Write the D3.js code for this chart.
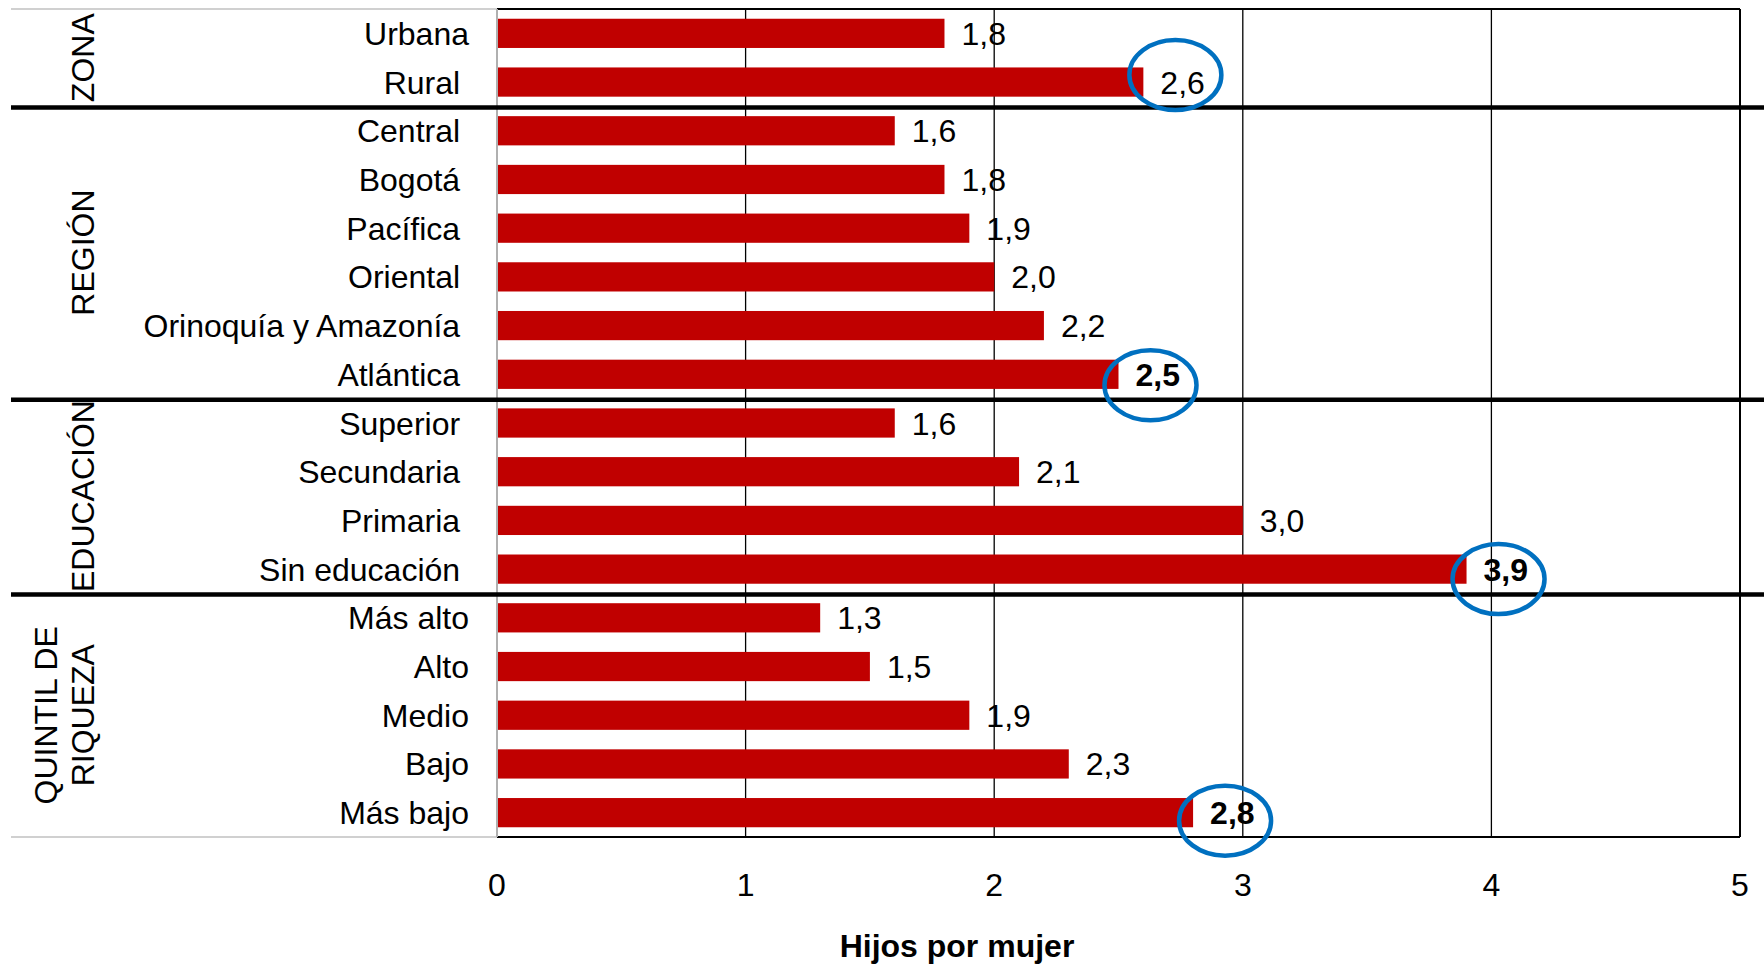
<!DOCTYPE html>
<html>
<head>
<meta charset="utf-8">
<script src="https://cdn.jsdelivr.net/npm/d3@7"></script>
<style>
  html, body { margin: 0; padding: 0; background: #fff; }
  svg { display: block; font-family: "Liberation Sans", Arial, sans-serif; }
  text { white-space: pre; }
</style>
</head>
<body>
<svg id="chart" width="1764" height="964"></svg>
<script>
// ---- Data ----
const categories = ["Urbana", "Rural ", "Central ", "Bogotá ", "Pacífica ", "Oriental ",
  "Orinoquía y Amazonía ", "Atlántica ", "Superior ", "Secundaria ", "Primaria ",
  "Sin educación ", "Más alto", "Alto", "Medio", "Bajo", "Más bajo"];
const values = [1.8, 2.6, 1.6, 1.8, 1.9, 2.0, 2.2, 2.5, 1.6, 2.1, 3.0, 3.9, 1.3, 1.5, 1.9, 2.3, 2.8];
const groupNames = [["ZONA"], ["REGIÓN"], ["EDUCACIÓN"], ["QUINTIL DE", "RIQUEZA"]];
const groupSizes = [2, 6, 4, 5];
const xTicks = [0, 1, 2, 3, 4, 5];
const boldCategories = ["Atlántica ", "Sin educación ", "Más bajo"];
const circledCategories = ["Rural ", "Atlántica ", "Sin educación ", "Más bajo"];
const xTitle = "Hijos por mujer";

// ---- Layout ----
const svg = d3.select("#chart");
const pLeft = 497, pRight = 1740, pTop = 9, pBottom = 837;
const fontSize = 32;
const locale = d3.formatLocale({ decimal: ",", thousands: ".", grouping: [3], currency: ["$", ""] });
const fmt = locale.format(".1f");

const x = d3.scaleLinear().domain([0, 5]).range([pLeft, pRight]);
const y = d3.scaleBand().domain(categories).range([pTop, pBottom]).paddingInner(0.4).paddingOuter(0.2);
const rowTop = i => pTop + i * (pBottom - pTop) / categories.length;

// Vertical gridlines (1..5) and plot border
const grid = svg.append("g");
grid.selectAll("line.g").data(xTicks.slice(1)).join("line")
  .attr("x1", d => x(d)).attr("x2", d => x(d))
  .attr("y1", pTop).attr("y2", pBottom)
  .attr("stroke", "#000").attr("stroke-width", d => d === 5 ? 2 : 1.3);
grid.append("line").attr("x1", pLeft).attr("x2", pRight).attr("y1", pTop).attr("y2", pTop)
  .attr("stroke", "#000").attr("stroke-width", 2);
grid.append("line").attr("x1", pLeft).attr("x2", pRight).attr("y1", pBottom).attr("y2", pBottom)
  .attr("stroke", "#000").attr("stroke-width", 2);
grid.append("line").attr("x1", 11).attr("x2", pLeft).attr("y1", pTop).attr("y2", pTop)
  .attr("stroke", "#d0d0d0").attr("stroke-width", 2);
grid.append("line").attr("x1", 11).attr("x2", pLeft).attr("y1", pBottom).attr("y2", pBottom)
  .attr("stroke", "#d0d0d0").attr("stroke-width", 2);
grid.append("line").attr("x1", pLeft).attr("x2", pLeft).attr("y1", pTop).attr("y2", pBottom)
  .attr("stroke", "#b0b0b0").attr("stroke-width", 2);

// Bars
svg.append("g").selectAll("rect").data(categories).join("rect")
  .attr("x", x(0) + 1)
  .attr("y", d => y(d))
  .attr("width", (d, i) => x(values[i]) - x(0) - 1)
  .attr("height", y.bandwidth())
  .attr("fill", "#C00000");

// Value labels
svg.append("g").selectAll("text").data(categories).join("text")
  .attr("x", (d, i) => x(values[i]) + 17)
  .attr("y", d => y(d) + y.bandwidth() / 2)
  .attr("dy", "0.36em")
  .attr("font-size", fontSize)
  .attr("font-weight", d => boldCategories.includes(d) ? "bold" : "normal")
  .attr("fill", "#000")
  .text((d, i) => fmt(values[i]));

// Category labels
svg.append("g").selectAll("text").data(categories).join("text")
  .attr("x", 469)
  .attr("y", d => y(d) + y.bandwidth() / 2)
  .attr("dy", "0.36em")
  .attr("text-anchor", "end")
  .attr("font-size", fontSize)
  .attr("fill", "#000")
  .text(d => d);

// Group separators and group labels
let cum = 0;
const groupInfo = groupSizes.map((n, gi) => {
  const start = cum; cum += n;
  return { names: groupNames[gi], y0: rowTop(start), y1: rowTop(cum), last: gi === groupSizes.length - 1 };
});
svg.append("g").selectAll("line").data(groupInfo.filter(g => !g.last)).join("line")
  .attr("x1", 11).attr("x2", 1764)
  .attr("y1", d => d.y1 + 1).attr("y2", d => d.y1 + 1)
  .attr("stroke", "#000").attr("stroke-width", 4.5);

const gl = svg.append("g");
groupInfo.forEach(g => {
  const cy = (g.y0 + g.y1) / 2;
  const n = g.names.length;
  g.names.forEach((name, k) => {
    const cx = 82 - (n - 1 - k) * 37;
    gl.append("text")
      .attr("transform", `translate(${cx},${cy}) rotate(-90)`)
      .attr("text-anchor", "middle")
      .attr("dy", "0.36em")
      .attr("font-size", fontSize)
      .attr("fill", "#000")
      .text(name);
  });
});

// Highlight circles
const circleDy = { "Rural ": -7, "Atlántica ": 11, "Sin educación ": 10, "Más bajo": 8 };
svg.append("g").selectAll("ellipse").data(circledCategories).join("ellipse")
  .attr("cx", d => x(values[categories.indexOf(d)]) + 32)
  .attr("cy", d => y(d) + y.bandwidth() / 2 + circleDy[d])
  .attr("rx", 46).attr("ry", 35)
  .attr("fill", "none").attr("stroke", "#0070C0").attr("stroke-width", 4.5);

// X axis tick labels
svg.append("g").selectAll("text").data(xTicks).join("text")
  .attr("x", d => x(d))
  .attr("y", 884)
  .attr("dy", "0.36em")
  .attr("text-anchor", "middle")
  .attr("font-size", fontSize)
  .attr("fill", "#000")
  .text(d => d);

// X axis title
svg.append("text")
  .attr("x", 957).attr("y", 945).attr("dy", "0.36em")
  .attr("text-anchor", "middle")
  .attr("font-size", fontSize)
  .attr("font-weight", "bold")
  .attr("fill", "#000")
  .text(xTitle);
</script>
</body>
</html>
